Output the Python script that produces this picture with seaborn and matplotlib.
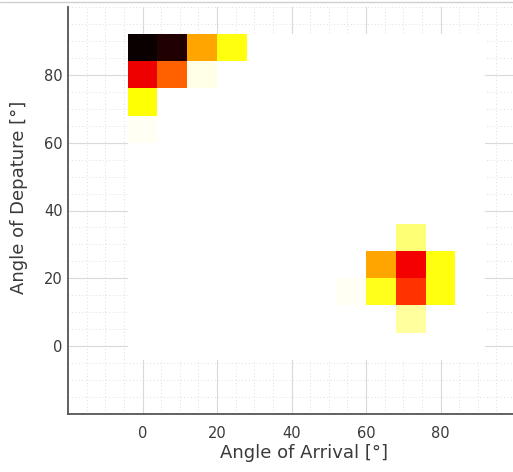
import numpy as np
import pandas as pd
import matplotlib
matplotlib.use("Agg")
import matplotlib.pyplot as plt
from matplotlib.ticker import MultipleLocator
from matplotlib.lines import Line2D
import seaborn as sns

# ---- data ----
grid_centers = [0, 8, 16, 24, 32, 40, 48, 56, 64, 72, 80, 88]
aoa = [0, 8, 16, 24, 0, 8, 16, 0, 0, 72, 64, 72, 80, 56, 64, 72, 80, 72]
aod = [88, 88, 88, 88, 80, 80, 80, 72, 64, 32, 24, 24, 24, 16, 16, 16, 16, 8]
power = [1.0, 0.965, 0.39, 0.24, 0.66, 0.49, 0.025, 0.25, 0.015,
         0.14, 0.39, 0.65, 0.24, 0.015, 0.23, 0.56, 0.24, 0.10]
x_ticks = [0, 20, 40, 60, 80]
y_ticks = [0, 20, 40, 60, 80]

# full grid with zeros where no power
gx, gy = np.meshgrid(grid_centers, grid_centers)
full = pd.DataFrame({"aoa": gx.ravel(), "aod": gy.ravel(), "power": 0.0})
for a, d, p in zip(aoa, aod, power):
    full.loc[(full.aoa == a) & (full.aod == d), "power"] = p

sns.set_theme(style="white")
plt.rcParams["font.family"] = ["DejaVu Sans"]

fig = plt.figure(figsize=(5.13, 4.72), dpi=100)
ax = fig.add_axes([68 / 513, 1 - 414 / 472, 447 / 513, 407 / 472])
ax.set_axisbelow(True)

sns.histplot(data=full, x="aoa", y="aod", weights="power",
             binwidth=8, binrange=((-4, 92), (-4, 92)),
             cmap="hot_r", vmin=0, vmax=1, thresh=None, ax=ax)

ax.set_xlim(-20, 100)
ax.set_ylim(-20, 100)
ax.set_xticks(x_ticks)
ax.set_yticks(y_ticks)
ax.xaxis.set_minor_locator(MultipleLocator(5))
ax.yaxis.set_minor_locator(MultipleLocator(5))
ax.grid(which="major", color="#d9d9d9", lw=0.8, ls="-")
ax.grid(which="minor", color="#dedede", lw=0.7, ls=(0, (1, 2.5)))

txt = "#3a3a3a"
ax.tick_params(axis="both", which="major", direction="in", length=4,
               width=1, color="#555555", labelsize=10.5, labelcolor=txt)
ax.tick_params(axis="x", which="major", pad=9)
ax.tick_params(axis="y", which="major", pad=4)
ax.tick_params(which="minor", length=0)

for s in ["top", "right"]:
    ax.spines[s].set_visible(False)
for s in ["left", "bottom"]:
    ax.spines[s].set_color("#555555")
    ax.spines[s].set_linewidth(1.3)

ax.set_xlabel("Angle of Arrival [°]", fontsize=13, color=txt)
ax.set_ylabel("Angle of Depature [°]", fontsize=13, color=txt)
ax.xaxis.set_label_coords((304 - 68) / 447, -(453 - 414) / 407)
ax.yaxis.set_label_coords(-(68 - 19) / 447, (414 - 197) / 407)
ax.xaxis.label.set_verticalalignment("center")
ax.yaxis.label.set_verticalalignment("center")

fig.add_artist(Line2D([0, 1], [1 - 2 / 472, 1 - 2 / 472], color="#d0d0d0",
                      lw=1, transform=fig.transFigure))

fig.savefig("out.png", dpi=100)
